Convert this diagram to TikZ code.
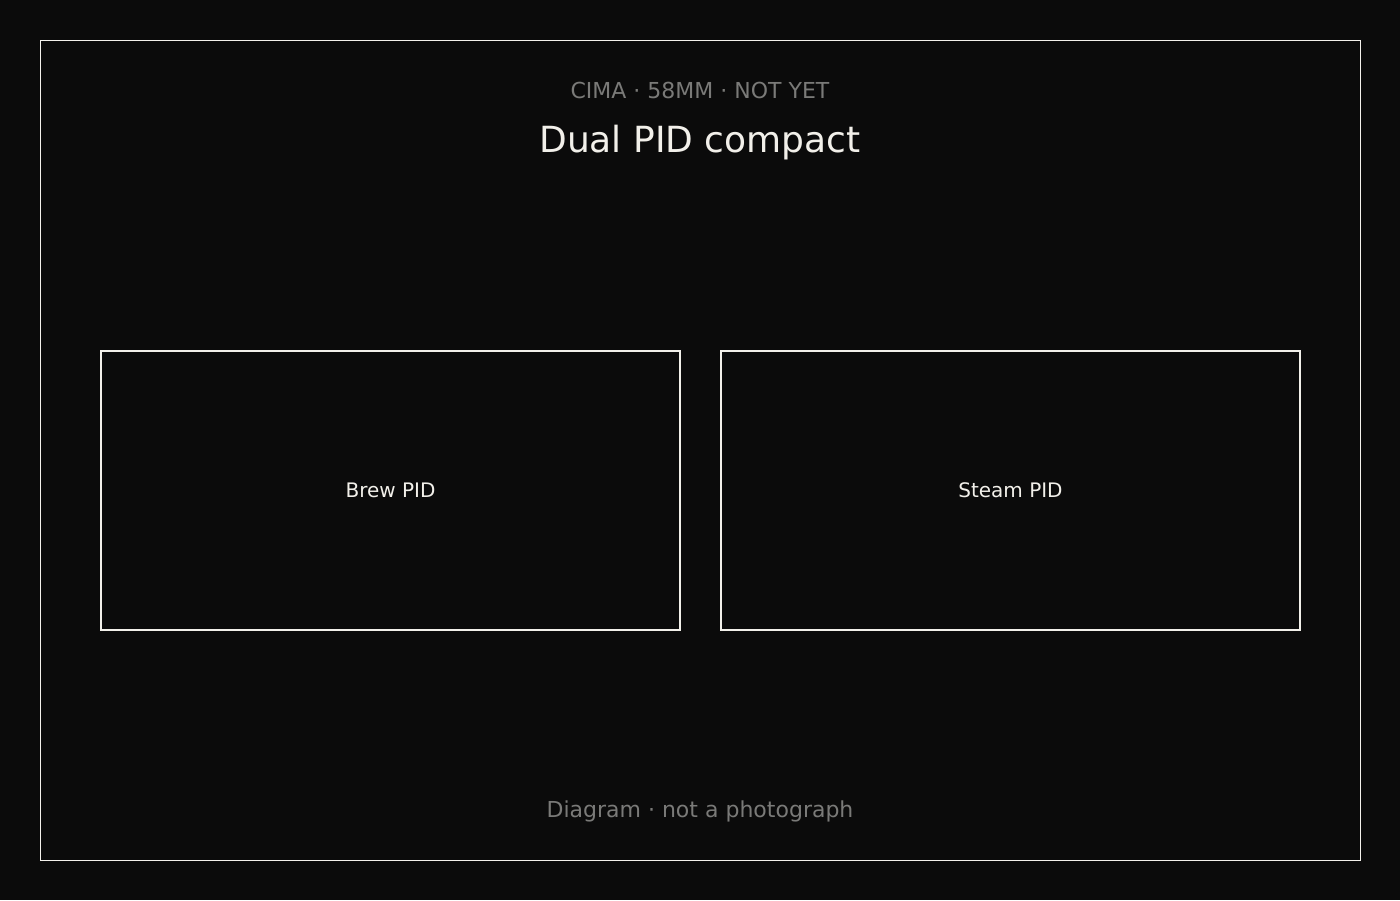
\documentclass[tikz,border=0pt]{standalone}
\usepackage{fontspec}
\setmainfont{DejaVu Sans}
\definecolor{bg}{HTML}{0B0B0B}
\definecolor{dim}{HTML}{7A7A78}
\definecolor{bright}{HTML}{F2F0EA}
\begin{document}
\begin{tikzpicture}[x=0.75pt,y=-0.75pt,
  txt/.style={inner sep=0pt,anchor=base},
  pidbox/.style={draw=bright,line width=1.5pt,fill=bg,inner sep=0pt,minimum width=579*0.75pt,minimum height=279*0.75pt,
    font=\fontsize{15pt}{18pt}\selectfont,text=bright,text height=11pt,text depth=0pt}]
\fill[bg] (0,0) rectangle (1400,900);
\useasboundingbox (0,0) rectangle (1400,900);
\draw[draw=bright!85,line width=0.75pt] (40.5,40.5) rectangle (1360.5,860.5);
\node[txt,text=dim,font=\fontsize{16.5pt}{20pt}\selectfont] (sub) at (700,98) {CIMA · 58MM · NOT YET};
\node[txt,text=bright,font=\fontsize{27pt}{32pt}\selectfont] (title) at (700,152) {Dual PID compact};
\node[pidbox] (brew) at (390.5,490.5) {Brew PID};
\node[pidbox] (steam) at (1010.5,490.5) {Steam PID};
\node[txt,text=dim,font=\fontsize{16.5pt}{20pt}\selectfont] (foot) at (700,817.5) {Diagram · not a photograph};
\end{tikzpicture}
\end{document}
